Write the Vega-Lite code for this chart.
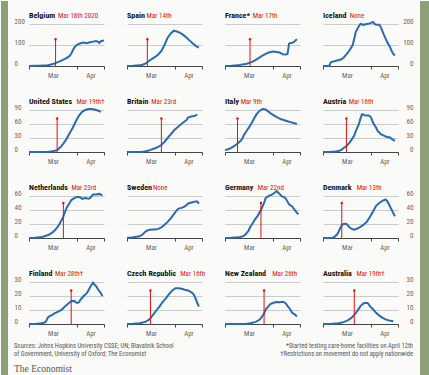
{
"$schema": "https://vega.github.io/schema/vega-lite/v6.json",
"background": "#fafaf8",
"padding": 0,
"spacing": 6,
"datasets": {
"k": [
{"c":"Belgium","n":"Belgium","l":"Mar 18th 2020","d":"2020-03-18"},
{"c":"Spain","n":"Spain","l":"Mar 14th","d":"2020-03-14"},
{"c":"France","n":"France*","l":"Mar 17th","d":"2020-03-17"},
{"c":"Iceland","n":"Iceland","l":"None"},
{"c":"United States","n":"United States","l":"Mar 19th†","d":"2020-03-19"},
{"c":"Britain","n":"Britain","l":"Mar 23rd","d":"2020-03-23"},
{"c":"Italy","n":"Italy","l":"Mar 9th","d":"2020-03-09"},
{"c":"Austria","n":"Austria","l":"Mar 16th","d":"2020-03-16"},
{"c":"Netherlands","n":"Netherlands","l":"Mar 23rd","d":"2020-03-23"},
{"c":"Sweden","n":"Sweden","l":"None"},
{"c":"Germany","n":"Germany","l":"Mar 22nd","d":"2020-03-24"},
{"c":"Denmark","n":"Denmark","l":"Mar 13th","d":"2020-03-13"},
{"c":"Finland","n":"Finland","l":"Mar 28th†","d":"2020-03-28"},
{"c":"Czech Republic","n":"Czech Republic","l":"Mar 16th","d":"2020-03-16"},
{"c":"New Zealand","n":"New Zealand","l":"Mar 26th","d":"2020-03-26"},
{"c":"Australia","n":"Australia","l":"Mar 19th†","d":"2020-03-21"}
],
"s": [
{"c":"Belgium","d":"2020-03-01","v":0},{"c":"Belgium","d":"2020-03-05","v":1},{"c":"Belgium","d":"2020-03-09","v":2},{"c":"Belgium","d":"2020-03-13","v":4},{"c":"Belgium","d":"2020-03-15","v":7},{"c":"Belgium","d":"2020-03-17","v":11},{"c":"Belgium","d":"2020-03-19","v":17},{"c":"Belgium","d":"2020-03-21","v":23},{"c":"Belgium","d":"2020-03-23","v":30},{"c":"Belgium","d":"2020-03-25","v":38},{"c":"Belgium","d":"2020-03-27","v":48},{"c":"Belgium","d":"2020-03-28","v":58},{"c":"Belgium","d":"2020-03-29","v":74},{"c":"Belgium","d":"2020-03-30","v":88},{"c":"Belgium","d":"2020-03-31","v":96},{"c":"Belgium","d":"2020-04-01","v":102},{"c":"Belgium","d":"2020-04-03","v":108},{"c":"Belgium","d":"2020-04-05","v":112},{"c":"Belgium","d":"2020-04-07","v":108},{"c":"Belgium","d":"2020-04-09","v":113},{"c":"Belgium","d":"2020-04-11","v":116},{"c":"Belgium","d":"2020-04-13","v":119},{"c":"Belgium","d":"2020-04-14","v":116},{"c":"Belgium","d":"2020-04-15","v":110},{"c":"Belgium","d":"2020-04-16","v":118},{"c":"Belgium","d":"2020-04-18","v":122},
{"c":"Spain","d":"2020-03-01","v":0},{"c":"Spain","d":"2020-03-05","v":1},{"c":"Spain","d":"2020-03-09","v":3},{"c":"Spain","d":"2020-03-11","v":6},{"c":"Spain","d":"2020-03-13","v":12},{"c":"Spain","d":"2020-03-15","v":24},{"c":"Spain","d":"2020-03-17","v":34},{"c":"Spain","d":"2020-03-19","v":43},{"c":"Spain","d":"2020-03-21","v":55},{"c":"Spain","d":"2020-03-23","v":72},{"c":"Spain","d":"2020-03-25","v":100},{"c":"Spain","d":"2020-03-27","v":135},{"c":"Spain","d":"2020-03-29","v":155},{"c":"Spain","d":"2020-03-31","v":168},{"c":"Spain","d":"2020-04-02","v":164},{"c":"Spain","d":"2020-04-04","v":158},{"c":"Spain","d":"2020-04-06","v":148},{"c":"Spain","d":"2020-04-08","v":136},{"c":"Spain","d":"2020-04-10","v":122},{"c":"Spain","d":"2020-04-12","v":108},{"c":"Spain","d":"2020-04-14","v":96},{"c":"Spain","d":"2020-04-16","v":88},
{"c":"France","d":"2020-03-01","v":0},{"c":"France","d":"2020-03-05","v":1},{"c":"France","d":"2020-03-09","v":3},{"c":"France","d":"2020-03-13","v":8},{"c":"France","d":"2020-03-15","v":11},{"c":"France","d":"2020-03-17","v":16},{"c":"France","d":"2020-03-19","v":22},{"c":"France","d":"2020-03-21","v":30},{"c":"France","d":"2020-03-23","v":40},{"c":"France","d":"2020-03-25","v":50},{"c":"France","d":"2020-03-27","v":58},{"c":"France","d":"2020-03-29","v":64},{"c":"France","d":"2020-03-31","v":68},{"c":"France","d":"2020-04-01","v":69},{"c":"France","d":"2020-04-03","v":67},{"c":"France","d":"2020-04-05","v":64},{"c":"France","d":"2020-04-06","v":60},{"c":"France","d":"2020-04-07","v":56},{"c":"France","d":"2020-04-09","v":55},{"c":"France","d":"2020-04-10","v":57},{"c":"France","d":"2020-04-11","v":106},{"c":"France","d":"2020-04-12","v":110},{"c":"France","d":"2020-04-13","v":111},{"c":"France","d":"2020-04-14","v":114},{"c":"France","d":"2020-04-15","v":120},{"c":"France","d":"2020-04-16","v":128},
{"c":"Iceland","d":"2020-03-01","v":0},{"c":"Iceland","d":"2020-03-05","v":0},{"c":"Iceland","d":"2020-03-06","v":18},{"c":"Iceland","d":"2020-03-08","v":22},{"c":"Iceland","d":"2020-03-10","v":26},{"c":"Iceland","d":"2020-03-12","v":30},{"c":"Iceland","d":"2020-03-14","v":38},{"c":"Iceland","d":"2020-03-16","v":55},{"c":"Iceland","d":"2020-03-18","v":75},{"c":"Iceland","d":"2020-03-20","v":100},{"c":"Iceland","d":"2020-03-21","v":130},{"c":"Iceland","d":"2020-03-22","v":163},{"c":"Iceland","d":"2020-03-24","v":190},{"c":"Iceland","d":"2020-03-25","v":200},{"c":"Iceland","d":"2020-03-27","v":196},{"c":"Iceland","d":"2020-03-29","v":200},{"c":"Iceland","d":"2020-03-31","v":203},{"c":"Iceland","d":"2020-04-02","v":210},{"c":"Iceland","d":"2020-04-03","v":200},{"c":"Iceland","d":"2020-04-04","v":196},{"c":"Iceland","d":"2020-04-06","v":196},{"c":"Iceland","d":"2020-04-07","v":185},{"c":"Iceland","d":"2020-04-09","v":148},{"c":"Iceland","d":"2020-04-11","v":115},{"c":"Iceland","d":"2020-04-13","v":88},{"c":"Iceland","d":"2020-04-14","v":70},{"c":"Iceland","d":"2020-04-15","v":58},{"c":"Iceland","d":"2020-04-16","v":50},
{"c":"United States","d":"2020-03-01","v":0},{"c":"United States","d":"2020-03-09","v":0},{"c":"United States","d":"2020-03-13","v":0.5},{"c":"United States","d":"2020-03-15","v":1},{"c":"United States","d":"2020-03-17","v":2},{"c":"United States","d":"2020-03-19","v":4},{"c":"United States","d":"2020-03-21","v":10},{"c":"United States","d":"2020-03-23","v":18},{"c":"United States","d":"2020-03-25","v":28},{"c":"United States","d":"2020-03-27","v":40},{"c":"United States","d":"2020-03-29","v":52},{"c":"United States","d":"2020-03-31","v":66},{"c":"United States","d":"2020-04-02","v":78},{"c":"United States","d":"2020-04-04","v":86},{"c":"United States","d":"2020-04-06","v":90},{"c":"United States","d":"2020-04-08","v":92},{"c":"United States","d":"2020-04-10","v":92},{"c":"United States","d":"2020-04-12","v":91},{"c":"United States","d":"2020-04-14","v":89},{"c":"United States","d":"2020-04-16","v":86},
{"c":"Britain","d":"2020-03-01","v":0},{"c":"Britain","d":"2020-03-07","v":0},{"c":"Britain","d":"2020-03-11","v":0.5},{"c":"Britain","d":"2020-03-13","v":1.5},{"c":"Britain","d":"2020-03-15","v":3},{"c":"Britain","d":"2020-03-17","v":6},{"c":"Britain","d":"2020-03-19","v":8},{"c":"Britain","d":"2020-03-21","v":11},{"c":"Britain","d":"2020-03-23","v":15},{"c":"Britain","d":"2020-03-25","v":22},{"c":"Britain","d":"2020-03-27","v":30},{"c":"Britain","d":"2020-03-29","v":38},{"c":"Britain","d":"2020-03-31","v":46},{"c":"Britain","d":"2020-04-02","v":52},{"c":"Britain","d":"2020-04-04","v":58},{"c":"Britain","d":"2020-04-06","v":63},{"c":"Britain","d":"2020-04-07","v":66},{"c":"Britain","d":"2020-04-08","v":68},{"c":"Britain","d":"2020-04-09","v":74},{"c":"Britain","d":"2020-04-11","v":76},{"c":"Britain","d":"2020-04-13","v":77},{"c":"Britain","d":"2020-04-15","v":80},
{"c":"Italy","d":"2020-03-01","v":4},{"c":"Italy","d":"2020-03-03","v":6},{"c":"Italy","d":"2020-03-05","v":9},{"c":"Italy","d":"2020-03-07","v":13},{"c":"Italy","d":"2020-03-09","v":18},{"c":"Italy","d":"2020-03-11","v":24},{"c":"Italy","d":"2020-03-12","v":28},{"c":"Italy","d":"2020-03-13","v":36},{"c":"Italy","d":"2020-03-15","v":46},{"c":"Italy","d":"2020-03-17","v":56},{"c":"Italy","d":"2020-03-19","v":68},{"c":"Italy","d":"2020-03-21","v":80},{"c":"Italy","d":"2020-03-23","v":88},{"c":"Italy","d":"2020-03-25","v":92},{"c":"Italy","d":"2020-03-27","v":91},{"c":"Italy","d":"2020-03-29","v":86},{"c":"Italy","d":"2020-03-31","v":81},{"c":"Italy","d":"2020-04-02","v":77},{"c":"Italy","d":"2020-04-04","v":73},{"c":"Italy","d":"2020-04-06","v":70},{"c":"Italy","d":"2020-04-08","v":68},{"c":"Italy","d":"2020-04-10","v":66},{"c":"Italy","d":"2020-04-12","v":64},{"c":"Italy","d":"2020-04-14","v":62},{"c":"Italy","d":"2020-04-16","v":60},
{"c":"Austria","d":"2020-03-01","v":0},{"c":"Austria","d":"2020-03-05","v":0},{"c":"Austria","d":"2020-03-09","v":1},{"c":"Austria","d":"2020-03-11","v":2},{"c":"Austria","d":"2020-03-13","v":5},{"c":"Austria","d":"2020-03-14","v":8},{"c":"Austria","d":"2020-03-16","v":13},{"c":"Austria","d":"2020-03-18","v":20},{"c":"Austria","d":"2020-03-19","v":25},{"c":"Austria","d":"2020-03-21","v":35},{"c":"Austria","d":"2020-03-22","v":45},{"c":"Austria","d":"2020-03-24","v":60},{"c":"Austria","d":"2020-03-25","v":72},{"c":"Austria","d":"2020-03-26","v":81},{"c":"Austria","d":"2020-03-27","v":80},{"c":"Austria","d":"2020-03-28","v":78},{"c":"Austria","d":"2020-03-30","v":78},{"c":"Austria","d":"2020-03-31","v":77},{"c":"Austria","d":"2020-04-01","v":72},{"c":"Austria","d":"2020-04-02","v":63},{"c":"Austria","d":"2020-04-04","v":52},{"c":"Austria","d":"2020-04-05","v":45},{"c":"Austria","d":"2020-04-07","v":38},{"c":"Austria","d":"2020-04-09","v":35},{"c":"Austria","d":"2020-04-11","v":32},{"c":"Austria","d":"2020-04-13","v":31},{"c":"Austria","d":"2020-04-14","v":28},{"c":"Austria","d":"2020-04-16","v":24},
{"c":"Netherlands","d":"2020-03-01","v":0},{"c":"Netherlands","d":"2020-03-05","v":0.5},{"c":"Netherlands","d":"2020-03-09","v":1.5},{"c":"Netherlands","d":"2020-03-11","v":2.5},{"c":"Netherlands","d":"2020-03-14","v":5},{"c":"Netherlands","d":"2020-03-16","v":8},{"c":"Netherlands","d":"2020-03-18","v":12},{"c":"Netherlands","d":"2020-03-20","v":18},{"c":"Netherlands","d":"2020-03-22","v":26},{"c":"Netherlands","d":"2020-03-23","v":31},{"c":"Netherlands","d":"2020-03-25","v":43},{"c":"Netherlands","d":"2020-03-27","v":50},{"c":"Netherlands","d":"2020-03-28","v":54},{"c":"Netherlands","d":"2020-03-30","v":57},{"c":"Netherlands","d":"2020-04-01","v":59},{"c":"Netherlands","d":"2020-04-03","v":58},{"c":"Netherlands","d":"2020-04-04","v":56},{"c":"Netherlands","d":"2020-04-06","v":57},{"c":"Netherlands","d":"2020-04-08","v":56},{"c":"Netherlands","d":"2020-04-09","v":57},{"c":"Netherlands","d":"2020-04-11","v":62},{"c":"Netherlands","d":"2020-04-13","v":62},{"c":"Netherlands","d":"2020-04-15","v":63},{"c":"Netherlands","d":"2020-04-16","v":62},{"c":"Netherlands","d":"2020-04-17","v":61},
{"c":"Sweden","d":"2020-03-01","v":0},{"c":"Sweden","d":"2020-03-05","v":1},{"c":"Sweden","d":"2020-03-09","v":2.5},{"c":"Sweden","d":"2020-03-11","v":5},{"c":"Sweden","d":"2020-03-13","v":9.5},{"c":"Sweden","d":"2020-03-15","v":11.5},{"c":"Sweden","d":"2020-03-17","v":12},{"c":"Sweden","d":"2020-03-19","v":12},{"c":"Sweden","d":"2020-03-21","v":13},{"c":"Sweden","d":"2020-03-23","v":15},{"c":"Sweden","d":"2020-03-25","v":19},{"c":"Sweden","d":"2020-03-27","v":23},{"c":"Sweden","d":"2020-03-29","v":28},{"c":"Sweden","d":"2020-03-31","v":34},{"c":"Sweden","d":"2020-04-02","v":40},{"c":"Sweden","d":"2020-04-03","v":42},{"c":"Sweden","d":"2020-04-05","v":43},{"c":"Sweden","d":"2020-04-07","v":45},{"c":"Sweden","d":"2020-04-09","v":49},{"c":"Sweden","d":"2020-04-10","v":50},{"c":"Sweden","d":"2020-04-12","v":51},{"c":"Sweden","d":"2020-04-14","v":52},{"c":"Sweden","d":"2020-04-15","v":52},{"c":"Sweden","d":"2020-04-16","v":49},
{"c":"Germany","d":"2020-03-01","v":0},{"c":"Germany","d":"2020-03-05","v":0.3},{"c":"Germany","d":"2020-03-09","v":1},{"c":"Germany","d":"2020-03-11","v":1.5},{"c":"Germany","d":"2020-03-13","v":3},{"c":"Germany","d":"2020-03-14","v":5},{"c":"Germany","d":"2020-03-16","v":10},{"c":"Germany","d":"2020-03-17","v":15},{"c":"Germany","d":"2020-03-19","v":22},{"c":"Germany","d":"2020-03-20","v":26},{"c":"Germany","d":"2020-03-22","v":32},{"c":"Germany","d":"2020-03-24","v":40},{"c":"Germany","d":"2020-03-26","v":50},{"c":"Germany","d":"2020-03-27","v":57},{"c":"Germany","d":"2020-03-29","v":60},{"c":"Germany","d":"2020-03-31","v":62},{"c":"Germany","d":"2020-04-02","v":65},{"c":"Germany","d":"2020-04-03","v":67},{"c":"Germany","d":"2020-04-05","v":63},{"c":"Germany","d":"2020-04-06","v":60},{"c":"Germany","d":"2020-04-08","v":58},{"c":"Germany","d":"2020-04-09","v":56},{"c":"Germany","d":"2020-04-11","v":48},{"c":"Germany","d":"2020-04-13","v":45},{"c":"Germany","d":"2020-04-14","v":42},{"c":"Germany","d":"2020-04-16","v":36},{"c":"Germany","d":"2020-04-17","v":34},
{"c":"Denmark","d":"2020-03-01","v":0},{"c":"Denmark","d":"2020-03-05","v":0},{"c":"Denmark","d":"2020-03-07","v":0.5},{"c":"Denmark","d":"2020-03-08","v":1},{"c":"Denmark","d":"2020-03-10","v":5},{"c":"Denmark","d":"2020-03-11","v":9},{"c":"Denmark","d":"2020-03-12","v":14},{"c":"Denmark","d":"2020-03-13","v":18},{"c":"Denmark","d":"2020-03-14","v":20},{"c":"Denmark","d":"2020-03-15","v":20.5},{"c":"Denmark","d":"2020-03-16","v":20},{"c":"Denmark","d":"2020-03-17","v":18},{"c":"Denmark","d":"2020-03-18","v":15},{"c":"Denmark","d":"2020-03-20","v":12.5},{"c":"Denmark","d":"2020-03-21","v":12},{"c":"Denmark","d":"2020-03-23","v":13.5},{"c":"Denmark","d":"2020-03-25","v":16},{"c":"Denmark","d":"2020-03-27","v":19},{"c":"Denmark","d":"2020-03-29","v":23},{"c":"Denmark","d":"2020-03-31","v":30},{"c":"Denmark","d":"2020-04-02","v":38},{"c":"Denmark","d":"2020-04-04","v":46},{"c":"Denmark","d":"2020-04-06","v":50},{"c":"Denmark","d":"2020-04-08","v":53},{"c":"Denmark","d":"2020-04-10","v":55},{"c":"Denmark","d":"2020-04-11","v":53},{"c":"Denmark","d":"2020-04-12","v":49},{"c":"Denmark","d":"2020-04-14","v":40},{"c":"Denmark","d":"2020-04-16","v":31},
{"c":"Finland","d":"2020-03-01","v":0},{"c":"Finland","d":"2020-03-05","v":0},{"c":"Finland","d":"2020-03-09","v":0.5},{"c":"Finland","d":"2020-03-11","v":1},{"c":"Finland","d":"2020-03-12","v":2},{"c":"Finland","d":"2020-03-13","v":4.5},{"c":"Finland","d":"2020-03-14","v":5.5},{"c":"Finland","d":"2020-03-16","v":6.5},{"c":"Finland","d":"2020-03-17","v":7.5},{"c":"Finland","d":"2020-03-19","v":8.5},{"c":"Finland","d":"2020-03-20","v":9},{"c":"Finland","d":"2020-03-22","v":10.3},{"c":"Finland","d":"2020-03-24","v":12.5},{"c":"Finland","d":"2020-03-26","v":14.5},{"c":"Finland","d":"2020-03-28","v":16.3},{"c":"Finland","d":"2020-03-30","v":16.5},{"c":"Finland","d":"2020-03-31","v":15.5},{"c":"Finland","d":"2020-04-01","v":15},{"c":"Finland","d":"2020-04-02","v":15.5},{"c":"Finland","d":"2020-04-03","v":17.5},{"c":"Finland","d":"2020-04-05","v":20},{"c":"Finland","d":"2020-04-07","v":22},{"c":"Finland","d":"2020-04-08","v":24},{"c":"Finland","d":"2020-04-09","v":26},{"c":"Finland","d":"2020-04-10","v":28},{"c":"Finland","d":"2020-04-11","v":29.5},{"c":"Finland","d":"2020-04-12","v":28},{"c":"Finland","d":"2020-04-13","v":27},{"c":"Finland","d":"2020-04-14","v":25},{"c":"Finland","d":"2020-04-16","v":22},{"c":"Finland","d":"2020-04-17","v":20},
{"c":"Czech Republic","d":"2020-03-01","v":0},{"c":"Czech Republic","d":"2020-03-05","v":0.2},{"c":"Czech Republic","d":"2020-03-09","v":0.5},{"c":"Czech Republic","d":"2020-03-11","v":1},{"c":"Czech Republic","d":"2020-03-13","v":1.7},{"c":"Czech Republic","d":"2020-03-15","v":3},{"c":"Czech Republic","d":"2020-03-16","v":4.2},{"c":"Czech Republic","d":"2020-03-18","v":7},{"c":"Czech Republic","d":"2020-03-20","v":10},{"c":"Czech Republic","d":"2020-03-22","v":12.8},{"c":"Czech Republic","d":"2020-03-24","v":16},{"c":"Czech Republic","d":"2020-03-26","v":18.5},{"c":"Czech Republic","d":"2020-03-28","v":21.5},{"c":"Czech Republic","d":"2020-03-30","v":24},{"c":"Czech Republic","d":"2020-04-01","v":25.6},{"c":"Czech Republic","d":"2020-04-03","v":25.5},{"c":"Czech Republic","d":"2020-04-05","v":25.2},{"c":"Czech Republic","d":"2020-04-07","v":24.5},{"c":"Czech Republic","d":"2020-04-09","v":24},{"c":"Czech Republic","d":"2020-04-10","v":23.5},{"c":"Czech Republic","d":"2020-04-12","v":22},{"c":"Czech Republic","d":"2020-04-13","v":20.5},{"c":"Czech Republic","d":"2020-04-14","v":18},{"c":"Czech Republic","d":"2020-04-15","v":15},{"c":"Czech Republic","d":"2020-04-16","v":12.5},
{"c":"New Zealand","d":"2020-03-01","v":0},{"c":"New Zealand","d":"2020-03-10","v":0},{"c":"New Zealand","d":"2020-03-15","v":0.2},{"c":"New Zealand","d":"2020-03-17","v":0.5},{"c":"New Zealand","d":"2020-03-19","v":1},{"c":"New Zealand","d":"2020-03-21","v":1.7},{"c":"New Zealand","d":"2020-03-23","v":3},{"c":"New Zealand","d":"2020-03-24","v":4.2},{"c":"New Zealand","d":"2020-03-26","v":7.5},{"c":"New Zealand","d":"2020-03-27","v":10.3},{"c":"New Zealand","d":"2020-03-29","v":13},{"c":"New Zealand","d":"2020-03-30","v":14.2},{"c":"New Zealand","d":"2020-04-01","v":15.2},{"c":"New Zealand","d":"2020-04-03","v":15.7},{"c":"New Zealand","d":"2020-04-05","v":15.5},{"c":"New Zealand","d":"2020-04-07","v":15.8},{"c":"New Zealand","d":"2020-04-08","v":15.5},{"c":"New Zealand","d":"2020-04-09","v":14.5},{"c":"New Zealand","d":"2020-04-10","v":13},{"c":"New Zealand","d":"2020-04-12","v":10},{"c":"New Zealand","d":"2020-04-13","v":8},{"c":"New Zealand","d":"2020-04-15","v":6.5},{"c":"New Zealand","d":"2020-04-16","v":5.4},
{"c":"Australia","d":"2020-03-01","v":0},{"c":"Australia","d":"2020-03-07","v":0.2},{"c":"Australia","d":"2020-03-11","v":0.5},{"c":"Australia","d":"2020-03-13","v":1},{"c":"Australia","d":"2020-03-15","v":1.7},{"c":"Australia","d":"2020-03-17","v":2.8},{"c":"Australia","d":"2020-03-19","v":4.2},{"c":"Australia","d":"2020-03-21","v":6.5},{"c":"Australia","d":"2020-03-22","v":7.9},{"c":"Australia","d":"2020-03-24","v":11},{"c":"Australia","d":"2020-03-25","v":12.8},{"c":"Australia","d":"2020-03-27","v":14.8},{"c":"Australia","d":"2020-03-29","v":15.2},{"c":"Australia","d":"2020-03-30","v":14.5},{"c":"Australia","d":"2020-03-31","v":12.8},{"c":"Australia","d":"2020-04-02","v":10.5},{"c":"Australia","d":"2020-04-04","v":8},{"c":"Australia","d":"2020-04-06","v":6},{"c":"Australia","d":"2020-04-08","v":4.5},{"c":"Australia","d":"2020-04-10","v":3.3},{"c":"Australia","d":"2020-04-12","v":2.6},{"c":"Australia","d":"2020-04-14","v":2.2},{"c":"Australia","d":"2020-04-15","v":2}
]
},
"hconcat": [
{"width":7,"height":375,"view":{"fill":"#8b9f78","stroke":null},"data":{"values":[{}]},"mark":{"type":"rule","opacity":0},"encoding":{}},
{"spacing": 20,
"title": {"text": "The Economist", "orient": "bottom", "anchor": "start", "font": "Liberation Serif", "fontSize": 9.5, "fontWeight": "normal", "color": "#555", "offset": 7},
"vconcat": [
{"spacing": 10, "vconcat": [
{"width":1,"height":1,"data":{"values":[{}]},"mark":{"type":"rule","opacity":0},"encoding":{}},
{"bounds":"flush","spacing":23,"hconcat":[
{"width":75,"height":42,"layer":[
{"data":{"name":"s"},"transform":[{"filter":"datum.c=='Belgium'"}],"mark":{"type":"line","color":"#2a6bb1","strokeWidth":2},"encoding":{"x":{"field":"d","type":"temporal","title":null,"scale":{"type":"utc","domain":[{"year":2020,"month":3,"date":1,"utc":true},{"year":2020,"month":4,"date":18,"utc":true}]},"axis":{"values":[{"year":2020,"month":3,"date":1,"utc":true},{"year":2020,"month":4,"date":1,"utc":true},{"year":2020,"month":4,"date":18,"utc":true}],"tickCount":10,"labelExpr":"utcdate(datum.value)==1?utcFormat(datum.value,'%b'):''","labelOffset":{"condition":[{"test":"utcmonth(datum.value)==2","value":24},{"test":"utcdate(datum.value)==1","value":13}],"value":0}}},"y":{"field":"v","type":"quantitative","title":null,"scale":{"domain":[0,200]},"axis":{"values":[0,100,200],"tickCount":10,"orient":"left","labelAlign":"left","labelPadding":15}}}},
{"data":{"name":"k"},"transform":[{"filter":"datum.c=='Belgium'"}],"mark":{"type":"rule","color":"#e3120b","strokeWidth":1},"encoding":{"x":{"field":"d","type":"temporal","title":null},"y":{"datum":0},"y2":{"datum":127}}},
{"data":{"name":"k"},"transform":[{"filter":"datum.c=='Belgium'"}],"mark":{"type":"point","filled":true,"color":"#e3120b","size":6,"opacity":1},"encoding":{"x":{"field":"d","type":"temporal","title":null},"y":{"datum":127}}},
{"data":{"name":"k"},"transform":[{"filter":"datum.c=='Belgium'"}],"mark":{"type":"text","dy":-6,"fontSize":8,"fontWeight":"bold","color":"#111"},"encoding":{"x":{"datum":{"year":2020,"month":3,"date":1,"utc":true},"type":"temporal"},"y":{"datum":200},"text":{"field":"n"}}},
{"data":{"name":"k"},"transform":[{"filter":"datum.c=='Belgium'"}],"mark":{"type":"text","dy":-6,"dx":29,"fontSize":7,"color":"#e3120b"},"encoding":{"x":{"datum":{"year":2020,"month":3,"date":1,"utc":true},"type":"temporal"},"y":{"datum":200},"text":{"field":"l"}}}
]},
{"width":75,"height":42,"layer":[
{"data":{"name":"s"},"transform":[{"filter":"datum.c=='Spain'"}],"mark":{"type":"line","color":"#2a6bb1","strokeWidth":2},"encoding":{"x":{"field":"d","type":"temporal","title":null,"scale":{"type":"utc","domain":[{"year":2020,"month":3,"date":1,"utc":true},{"year":2020,"month":4,"date":18,"utc":true}]},"axis":{"values":[{"year":2020,"month":3,"date":1,"utc":true},{"year":2020,"month":4,"date":1,"utc":true},{"year":2020,"month":4,"date":18,"utc":true}],"tickCount":10,"labelExpr":"utcdate(datum.value)==1?utcFormat(datum.value,'%b'):''","labelOffset":{"condition":[{"test":"utcmonth(datum.value)==2","value":24},{"test":"utcdate(datum.value)==1","value":13}],"value":0}}},"y":{"field":"v","type":"quantitative","title":null,"scale":{"domain":[0,200]},"axis":{"values":[0,100,200],"tickCount":10,"labels":false}}}},
{"data":{"name":"k"},"transform":[{"filter":"datum.c=='Spain'"}],"mark":{"type":"rule","color":"#e3120b","strokeWidth":1},"encoding":{"x":{"field":"d","type":"temporal","title":null},"y":{"datum":0},"y2":{"datum":127}}},
{"data":{"name":"k"},"transform":[{"filter":"datum.c=='Spain'"}],"mark":{"type":"point","filled":true,"color":"#e3120b","size":6,"opacity":1},"encoding":{"x":{"field":"d","type":"temporal","title":null},"y":{"datum":127}}},
{"data":{"name":"k"},"transform":[{"filter":"datum.c=='Spain'"}],"mark":{"type":"text","dy":-6,"fontSize":8,"fontWeight":"bold","color":"#111"},"encoding":{"x":{"datum":{"year":2020,"month":3,"date":1,"utc":true},"type":"temporal"},"y":{"datum":200},"text":{"field":"n"}}},
{"data":{"name":"k"},"transform":[{"filter":"datum.c=='Spain'"}],"mark":{"type":"text","dy":-6,"dx":19.6,"fontSize":7,"color":"#e3120b"},"encoding":{"x":{"datum":{"year":2020,"month":3,"date":1,"utc":true},"type":"temporal"},"y":{"datum":200},"text":{"field":"l"}}}
]},
{"width":75,"height":42,"layer":[
{"data":{"name":"s"},"transform":[{"filter":"datum.c=='France'"}],"mark":{"type":"line","color":"#2a6bb1","strokeWidth":2},"encoding":{"x":{"field":"d","type":"temporal","title":null,"scale":{"type":"utc","domain":[{"year":2020,"month":3,"date":1,"utc":true},{"year":2020,"month":4,"date":18,"utc":true}]},"axis":{"values":[{"year":2020,"month":3,"date":1,"utc":true},{"year":2020,"month":4,"date":1,"utc":true},{"year":2020,"month":4,"date":18,"utc":true}],"tickCount":10,"labelExpr":"utcdate(datum.value)==1?utcFormat(datum.value,'%b'):''","labelOffset":{"condition":[{"test":"utcmonth(datum.value)==2","value":24},{"test":"utcdate(datum.value)==1","value":13}],"value":0}}},"y":{"field":"v","type":"quantitative","title":null,"scale":{"domain":[0,200]},"axis":{"values":[0,100,200],"tickCount":10,"labels":false}}}},
{"data":{"name":"k"},"transform":[{"filter":"datum.c=='France'"}],"mark":{"type":"rule","color":"#e3120b","strokeWidth":1},"encoding":{"x":{"field":"d","type":"temporal","title":null},"y":{"datum":0},"y2":{"datum":127}}},
{"data":{"name":"k"},"transform":[{"filter":"datum.c=='France'"}],"mark":{"type":"point","filled":true,"color":"#e3120b","size":6,"opacity":1},"encoding":{"x":{"field":"d","type":"temporal","title":null},"y":{"datum":127}}},
{"data":{"name":"k"},"transform":[{"filter":"datum.c=='France'"}],"mark":{"type":"text","dy":-6,"fontSize":8,"fontWeight":"bold","color":"#111"},"encoding":{"x":{"datum":{"year":2020,"month":3,"date":1,"utc":true},"type":"temporal"},"y":{"datum":200},"text":{"field":"n"}}},
{"data":{"name":"k"},"transform":[{"filter":"datum.c=='France'"}],"mark":{"type":"text","dy":-6,"dx":27.7,"fontSize":7,"color":"#e3120b"},"encoding":{"x":{"datum":{"year":2020,"month":3,"date":1,"utc":true},"type":"temporal"},"y":{"datum":200},"text":{"field":"l"}}}
]},
{"width":75,"height":42,"layer":[
{"data":{"name":"s"},"transform":[{"filter":"datum.c=='Iceland'"}],"mark":{"type":"line","color":"#2a6bb1","strokeWidth":2},"encoding":{"x":{"field":"d","type":"temporal","title":null,"scale":{"type":"utc","domain":[{"year":2020,"month":3,"date":1,"utc":true},{"year":2020,"month":4,"date":18,"utc":true}]},"axis":{"values":[{"year":2020,"month":3,"date":1,"utc":true},{"year":2020,"month":4,"date":1,"utc":true},{"year":2020,"month":4,"date":18,"utc":true}],"tickCount":10,"labelExpr":"utcdate(datum.value)==1?utcFormat(datum.value,'%b'):''","labelOffset":{"condition":[{"test":"utcmonth(datum.value)==2","value":24},{"test":"utcdate(datum.value)==1","value":13}],"value":0}}},"y":{"field":"v","type":"quantitative","title":null,"scale":{"domain":[0,200]},"axis":{"values":[0,100,200],"tickCount":10,"orient":"right","labelAlign":"right","labelPadding":15}}}},
{"data":{"name":"k"},"transform":[{"filter":"datum.c=='Iceland'"}],"mark":{"type":"text","dy":-6,"fontSize":8,"fontWeight":"bold","color":"#111"},"encoding":{"x":{"datum":{"year":2020,"month":3,"date":1,"utc":true},"type":"temporal"},"y":{"datum":200},"text":{"field":"n"}}},
{"data":{"name":"k"},"transform":[{"filter":"datum.c=='Iceland'"}],"mark":{"type":"text","dy":-6,"dx":26.7,"fontSize":7,"color":"#e3120b"},"encoding":{"x":{"datum":{"year":2020,"month":3,"date":1,"utc":true},"type":"temporal"},"y":{"datum":200},"text":{"field":"l"}}}
]}
]}
]},
{"bounds":"flush","spacing":23,"hconcat":[
{"width":75,"height":42,"layer":[
{"data":{"name":"s"},"transform":[{"filter":"datum.c=='United States'"}],"mark":{"type":"line","color":"#2a6bb1","strokeWidth":2},"encoding":{"x":{"field":"d","type":"temporal","title":null,"scale":{"type":"utc","domain":[{"year":2020,"month":3,"date":1,"utc":true},{"year":2020,"month":4,"date":18,"utc":true}]},"axis":{"values":[{"year":2020,"month":3,"date":1,"utc":true},{"year":2020,"month":4,"date":1,"utc":true},{"year":2020,"month":4,"date":18,"utc":true}],"tickCount":10,"labelExpr":"utcdate(datum.value)==1?utcFormat(datum.value,'%b'):''","labelOffset":{"condition":[{"test":"utcmonth(datum.value)==2","value":24},{"test":"utcdate(datum.value)==1","value":13}],"value":0}}},"y":{"field":"v","type":"quantitative","title":null,"scale":{"domain":[0,90]},"axis":{"values":[0,30,60,90],"tickCount":10,"orient":"left","labelAlign":"left","labelPadding":15}}}},
{"data":{"name":"k"},"transform":[{"filter":"datum.c=='United States'"}],"mark":{"type":"rule","color":"#e3120b","strokeWidth":1},"encoding":{"x":{"field":"d","type":"temporal","title":null},"y":{"datum":0},"y2":{"datum":72}}},
{"data":{"name":"k"},"transform":[{"filter":"datum.c=='United States'"}],"mark":{"type":"point","filled":true,"color":"#e3120b","size":6,"opacity":1},"encoding":{"x":{"field":"d","type":"temporal","title":null},"y":{"datum":72}}},
{"data":{"name":"k"},"transform":[{"filter":"datum.c=='United States'"}],"mark":{"type":"text","dy":-6,"fontSize":8,"fontWeight":"bold","color":"#111"},"encoding":{"x":{"datum":{"year":2020,"month":3,"date":1,"utc":true},"type":"temporal"},"y":{"datum":90},"text":{"field":"n"}}},
{"data":{"name":"k"},"transform":[{"filter":"datum.c=='United States'"}],"mark":{"type":"text","dy":-6,"dx":47.4,"fontSize":7,"color":"#e3120b"},"encoding":{"x":{"datum":{"year":2020,"month":3,"date":1,"utc":true},"type":"temporal"},"y":{"datum":90},"text":{"field":"l"}}}
]},
{"width":75,"height":42,"layer":[
{"data":{"name":"s"},"transform":[{"filter":"datum.c=='Britain'"}],"mark":{"type":"line","color":"#2a6bb1","strokeWidth":2},"encoding":{"x":{"field":"d","type":"temporal","title":null,"scale":{"type":"utc","domain":[{"year":2020,"month":3,"date":1,"utc":true},{"year":2020,"month":4,"date":18,"utc":true}]},"axis":{"values":[{"year":2020,"month":3,"date":1,"utc":true},{"year":2020,"month":4,"date":1,"utc":true},{"year":2020,"month":4,"date":18,"utc":true}],"tickCount":10,"labelExpr":"utcdate(datum.value)==1?utcFormat(datum.value,'%b'):''","labelOffset":{"condition":[{"test":"utcmonth(datum.value)==2","value":24},{"test":"utcdate(datum.value)==1","value":13}],"value":0}}},"y":{"field":"v","type":"quantitative","title":null,"scale":{"domain":[0,90]},"axis":{"values":[0,30,60,90],"tickCount":10,"labels":false}}}},
{"data":{"name":"k"},"transform":[{"filter":"datum.c=='Britain'"}],"mark":{"type":"rule","color":"#e3120b","strokeWidth":1},"encoding":{"x":{"field":"d","type":"temporal","title":null},"y":{"datum":0},"y2":{"datum":72}}},
{"data":{"name":"k"},"transform":[{"filter":"datum.c=='Britain'"}],"mark":{"type":"point","filled":true,"color":"#e3120b","size":6,"opacity":1},"encoding":{"x":{"field":"d","type":"temporal","title":null},"y":{"datum":72}}},
{"data":{"name":"k"},"transform":[{"filter":"datum.c=='Britain'"}],"mark":{"type":"text","dy":-6,"fontSize":8,"fontWeight":"bold","color":"#111"},"encoding":{"x":{"datum":{"year":2020,"month":3,"date":1,"utc":true},"type":"temporal"},"y":{"datum":90},"text":{"field":"n"}}},
{"data":{"name":"k"},"transform":[{"filter":"datum.c=='Britain'"}],"mark":{"type":"text","dy":-6,"dx":24.3,"fontSize":7,"color":"#e3120b"},"encoding":{"x":{"datum":{"year":2020,"month":3,"date":1,"utc":true},"type":"temporal"},"y":{"datum":90},"text":{"field":"l"}}}
]},
{"width":75,"height":42,"layer":[
{"data":{"name":"s"},"transform":[{"filter":"datum.c=='Italy'"}],"mark":{"type":"line","color":"#2a6bb1","strokeWidth":2},"encoding":{"x":{"field":"d","type":"temporal","title":null,"scale":{"type":"utc","domain":[{"year":2020,"month":3,"date":1,"utc":true},{"year":2020,"month":4,"date":18,"utc":true}]},"axis":{"values":[{"year":2020,"month":3,"date":1,"utc":true},{"year":2020,"month":4,"date":1,"utc":true},{"year":2020,"month":4,"date":18,"utc":true}],"tickCount":10,"labelExpr":"utcdate(datum.value)==1?utcFormat(datum.value,'%b'):''","labelOffset":{"condition":[{"test":"utcmonth(datum.value)==2","value":24},{"test":"utcdate(datum.value)==1","value":13}],"value":0}}},"y":{"field":"v","type":"quantitative","title":null,"scale":{"domain":[0,90]},"axis":{"values":[0,30,60,90],"tickCount":10,"labels":false}}}},
{"data":{"name":"k"},"transform":[{"filter":"datum.c=='Italy'"}],"mark":{"type":"rule","color":"#e3120b","strokeWidth":1},"encoding":{"x":{"field":"d","type":"temporal","title":null},"y":{"datum":0},"y2":{"datum":72}}},
{"data":{"name":"k"},"transform":[{"filter":"datum.c=='Italy'"}],"mark":{"type":"point","filled":true,"color":"#e3120b","size":6,"opacity":1},"encoding":{"x":{"field":"d","type":"temporal","title":null},"y":{"datum":72}}},
{"data":{"name":"k"},"transform":[{"filter":"datum.c=='Italy'"}],"mark":{"type":"text","dy":-6,"fontSize":8,"fontWeight":"bold","color":"#111"},"encoding":{"x":{"datum":{"year":2020,"month":3,"date":1,"utc":true},"type":"temporal"},"y":{"datum":90},"text":{"field":"n"}}},
{"data":{"name":"k"},"transform":[{"filter":"datum.c=='Italy'"}],"mark":{"type":"text","dy":-6,"dx":15.7,"fontSize":7,"color":"#e3120b"},"encoding":{"x":{"datum":{"year":2020,"month":3,"date":1,"utc":true},"type":"temporal"},"y":{"datum":90},"text":{"field":"l"}}}
]},
{"width":75,"height":42,"layer":[
{"data":{"name":"s"},"transform":[{"filter":"datum.c=='Austria'"}],"mark":{"type":"line","color":"#2a6bb1","strokeWidth":2},"encoding":{"x":{"field":"d","type":"temporal","title":null,"scale":{"type":"utc","domain":[{"year":2020,"month":3,"date":1,"utc":true},{"year":2020,"month":4,"date":18,"utc":true}]},"axis":{"values":[{"year":2020,"month":3,"date":1,"utc":true},{"year":2020,"month":4,"date":1,"utc":true},{"year":2020,"month":4,"date":18,"utc":true}],"tickCount":10,"labelExpr":"utcdate(datum.value)==1?utcFormat(datum.value,'%b'):''","labelOffset":{"condition":[{"test":"utcmonth(datum.value)==2","value":24},{"test":"utcdate(datum.value)==1","value":13}],"value":0}}},"y":{"field":"v","type":"quantitative","title":null,"scale":{"domain":[0,90]},"axis":{"values":[0,30,60,90],"tickCount":10,"orient":"right","labelAlign":"right","labelPadding":15}}}},
{"data":{"name":"k"},"transform":[{"filter":"datum.c=='Austria'"}],"mark":{"type":"rule","color":"#e3120b","strokeWidth":1},"encoding":{"x":{"field":"d","type":"temporal","title":null},"y":{"datum":0},"y2":{"datum":72}}},
{"data":{"name":"k"},"transform":[{"filter":"datum.c=='Austria'"}],"mark":{"type":"point","filled":true,"color":"#e3120b","size":6,"opacity":1},"encoding":{"x":{"field":"d","type":"temporal","title":null},"y":{"datum":72}}},
{"data":{"name":"k"},"transform":[{"filter":"datum.c=='Austria'"}],"mark":{"type":"text","dy":-6,"fontSize":8,"fontWeight":"bold","color":"#111"},"encoding":{"x":{"datum":{"year":2020,"month":3,"date":1,"utc":true},"type":"temporal"},"y":{"datum":90},"text":{"field":"n"}}},
{"data":{"name":"k"},"transform":[{"filter":"datum.c=='Austria'"}],"mark":{"type":"text","dy":-6,"dx":25.7,"fontSize":7,"color":"#e3120b"},"encoding":{"x":{"datum":{"year":2020,"month":3,"date":1,"utc":true},"type":"temporal"},"y":{"datum":90},"text":{"field":"l"}}}
]}
]},
{"bounds":"flush","spacing":23,"hconcat":[
{"width":75,"height":42,"layer":[
{"data":{"name":"s"},"transform":[{"filter":"datum.c=='Netherlands'"}],"mark":{"type":"line","color":"#2a6bb1","strokeWidth":2},"encoding":{"x":{"field":"d","type":"temporal","title":null,"scale":{"type":"utc","domain":[{"year":2020,"month":3,"date":1,"utc":true},{"year":2020,"month":4,"date":18,"utc":true}]},"axis":{"values":[{"year":2020,"month":3,"date":1,"utc":true},{"year":2020,"month":4,"date":1,"utc":true},{"year":2020,"month":4,"date":18,"utc":true}],"tickCount":10,"labelExpr":"utcdate(datum.value)==1?utcFormat(datum.value,'%b'):''","labelOffset":{"condition":[{"test":"utcmonth(datum.value)==2","value":24},{"test":"utcdate(datum.value)==1","value":13}],"value":0}}},"y":{"field":"v","type":"quantitative","title":null,"scale":{"domain":[0,60]},"axis":{"values":[0,20,40,60],"tickCount":10,"orient":"left","labelAlign":"left","labelPadding":15}}}},
{"data":{"name":"k"},"transform":[{"filter":"datum.c=='Netherlands'"}],"mark":{"type":"rule","color":"#e3120b","strokeWidth":1},"encoding":{"x":{"field":"d","type":"temporal","title":null},"y":{"datum":0},"y2":{"datum":50}}},
{"data":{"name":"k"},"transform":[{"filter":"datum.c=='Netherlands'"}],"mark":{"type":"point","filled":true,"color":"#e3120b","size":6,"opacity":1},"encoding":{"x":{"field":"d","type":"temporal","title":null},"y":{"datum":50}}},
{"data":{"name":"k"},"transform":[{"filter":"datum.c=='Netherlands'"}],"mark":{"type":"text","dy":-6,"fontSize":8,"fontWeight":"bold","color":"#111"},"encoding":{"x":{"datum":{"year":2020,"month":3,"date":1,"utc":true},"type":"temporal"},"y":{"datum":60},"text":{"field":"n"}}},
{"data":{"name":"k"},"transform":[{"filter":"datum.c=='Netherlands'"}],"mark":{"type":"text","dy":-6,"dx":42.4,"fontSize":7,"color":"#e3120b"},"encoding":{"x":{"datum":{"year":2020,"month":3,"date":1,"utc":true},"type":"temporal"},"y":{"datum":60},"text":{"field":"l"}}}
]},
{"width":75,"height":42,"layer":[
{"data":{"name":"s"},"transform":[{"filter":"datum.c=='Sweden'"}],"mark":{"type":"line","color":"#2a6bb1","strokeWidth":2},"encoding":{"x":{"field":"d","type":"temporal","title":null,"scale":{"type":"utc","domain":[{"year":2020,"month":3,"date":1,"utc":true},{"year":2020,"month":4,"date":18,"utc":true}]},"axis":{"values":[{"year":2020,"month":3,"date":1,"utc":true},{"year":2020,"month":4,"date":1,"utc":true},{"year":2020,"month":4,"date":18,"utc":true}],"tickCount":10,"labelExpr":"utcdate(datum.value)==1?utcFormat(datum.value,'%b'):''","labelOffset":{"condition":[{"test":"utcmonth(datum.value)==2","value":24},{"test":"utcdate(datum.value)==1","value":13}],"value":0}}},"y":{"field":"v","type":"quantitative","title":null,"scale":{"domain":[0,60]},"axis":{"values":[0,20,40,60],"tickCount":10,"labels":false}}}},
{"data":{"name":"k"},"transform":[{"filter":"datum.c=='Sweden'"}],"mark":{"type":"text","dy":-6,"fontSize":8,"fontWeight":"bold","color":"#111"},"encoding":{"x":{"datum":{"year":2020,"month":3,"date":1,"utc":true},"type":"temporal"},"y":{"datum":60},"text":{"field":"n"}}},
{"data":{"name":"k"},"transform":[{"filter":"datum.c=='Sweden'"}],"mark":{"type":"text","dy":-6,"dx":26,"fontSize":7,"color":"#e3120b"},"encoding":{"x":{"datum":{"year":2020,"month":3,"date":1,"utc":true},"type":"temporal"},"y":{"datum":60},"text":{"field":"l"}}}
]},
{"width":75,"height":42,"layer":[
{"data":{"name":"s"},"transform":[{"filter":"datum.c=='Germany'"}],"mark":{"type":"line","color":"#2a6bb1","strokeWidth":2},"encoding":{"x":{"field":"d","type":"temporal","title":null,"scale":{"type":"utc","domain":[{"year":2020,"month":3,"date":1,"utc":true},{"year":2020,"month":4,"date":18,"utc":true}]},"axis":{"values":[{"year":2020,"month":3,"date":1,"utc":true},{"year":2020,"month":4,"date":1,"utc":true},{"year":2020,"month":4,"date":18,"utc":true}],"tickCount":10,"labelExpr":"utcdate(datum.value)==1?utcFormat(datum.value,'%b'):''","labelOffset":{"condition":[{"test":"utcmonth(datum.value)==2","value":24},{"test":"utcdate(datum.value)==1","value":13}],"value":0}}},"y":{"field":"v","type":"quantitative","title":null,"scale":{"domain":[0,60]},"axis":{"values":[0,20,40,60],"tickCount":10,"labels":false}}}},
{"data":{"name":"k"},"transform":[{"filter":"datum.c=='Germany'"}],"mark":{"type":"rule","color":"#e3120b","strokeWidth":1},"encoding":{"x":{"field":"d","type":"temporal","title":null},"y":{"datum":0},"y2":{"datum":50}}},
{"data":{"name":"k"},"transform":[{"filter":"datum.c=='Germany'"}],"mark":{"type":"point","filled":true,"color":"#e3120b","size":6,"opacity":1},"encoding":{"x":{"field":"d","type":"temporal","title":null},"y":{"datum":50}}},
{"data":{"name":"k"},"transform":[{"filter":"datum.c=='Germany'"}],"mark":{"type":"text","dy":-6,"fontSize":8,"fontWeight":"bold","color":"#111"},"encoding":{"x":{"datum":{"year":2020,"month":3,"date":1,"utc":true},"type":"temporal"},"y":{"datum":60},"text":{"field":"n"}}},
{"data":{"name":"k"},"transform":[{"filter":"datum.c=='Germany'"}],"mark":{"type":"text","dy":-6,"dx":32.7,"fontSize":7,"color":"#e3120b"},"encoding":{"x":{"datum":{"year":2020,"month":3,"date":1,"utc":true},"type":"temporal"},"y":{"datum":60},"text":{"field":"l"}}}
]},
{"width":75,"height":42,"layer":[
{"data":{"name":"s"},"transform":[{"filter":"datum.c=='Denmark'"}],"mark":{"type":"line","color":"#2a6bb1","strokeWidth":2},"encoding":{"x":{"field":"d","type":"temporal","title":null,"scale":{"type":"utc","domain":[{"year":2020,"month":3,"date":1,"utc":true},{"year":2020,"month":4,"date":18,"utc":true}]},"axis":{"values":[{"year":2020,"month":3,"date":1,"utc":true},{"year":2020,"month":4,"date":1,"utc":true},{"year":2020,"month":4,"date":18,"utc":true}],"tickCount":10,"labelExpr":"utcdate(datum.value)==1?utcFormat(datum.value,'%b'):''","labelOffset":{"condition":[{"test":"utcmonth(datum.value)==2","value":24},{"test":"utcdate(datum.value)==1","value":13}],"value":0}}},"y":{"field":"v","type":"quantitative","title":null,"scale":{"domain":[0,60]},"axis":{"values":[0,20,40,60],"tickCount":10,"orient":"right","labelAlign":"right","labelPadding":15}}}},
{"data":{"name":"k"},"transform":[{"filter":"datum.c=='Denmark'"}],"mark":{"type":"rule","color":"#e3120b","strokeWidth":1},"encoding":{"x":{"field":"d","type":"temporal","title":null},"y":{"datum":0},"y2":{"datum":50}}},
{"data":{"name":"k"},"transform":[{"filter":"datum.c=='Denmark'"}],"mark":{"type":"point","filled":true,"color":"#e3120b","size":6,"opacity":1},"encoding":{"x":{"field":"d","type":"temporal","title":null},"y":{"datum":50}}},
{"data":{"name":"k"},"transform":[{"filter":"datum.c=='Denmark'"}],"mark":{"type":"text","dy":-6,"fontSize":8,"fontWeight":"bold","color":"#111"},"encoding":{"x":{"datum":{"year":2020,"month":3,"date":1,"utc":true},"type":"temporal"},"y":{"datum":60},"text":{"field":"n"}}},
{"data":{"name":"k"},"transform":[{"filter":"datum.c=='Denmark'"}],"mark":{"type":"text","dy":-6,"dx":33.7,"fontSize":7,"color":"#e3120b"},"encoding":{"x":{"datum":{"year":2020,"month":3,"date":1,"utc":true},"type":"temporal"},"y":{"datum":60},"text":{"field":"l"}}}
]}
]},
{"bounds":"flush","spacing":23,"hconcat":[
{"width":75,"height":42,"title":{"text":["Sources: Johns Hopkins University CSSE; UN; Blavatnik School","of Government, University of Oxford; The Economist"],"orient":"bottom","anchor":"start","fontSize":6.5,"fontWeight":"normal","color":"#555","lineHeight":7.5,"offset":7},"layer":[
{"data":{"name":"s"},"transform":[{"filter":"datum.c=='Finland'"}],"mark":{"type":"line","color":"#2a6bb1","strokeWidth":2},"encoding":{"x":{"field":"d","type":"temporal","title":null,"scale":{"type":"utc","domain":[{"year":2020,"month":3,"date":1,"utc":true},{"year":2020,"month":4,"date":18,"utc":true}]},"axis":{"values":[{"year":2020,"month":3,"date":1,"utc":true},{"year":2020,"month":4,"date":1,"utc":true},{"year":2020,"month":4,"date":18,"utc":true}],"tickCount":10,"labelExpr":"utcdate(datum.value)==1?utcFormat(datum.value,'%b'):''","labelOffset":{"condition":[{"test":"utcmonth(datum.value)==2","value":24},{"test":"utcdate(datum.value)==1","value":13}],"value":0}}},"y":{"field":"v","type":"quantitative","title":null,"scale":{"domain":[0,30]},"axis":{"values":[0,10,20,30],"tickCount":10,"orient":"left","labelAlign":"left","labelPadding":15}}}},
{"data":{"name":"k"},"transform":[{"filter":"datum.c=='Finland'"}],"mark":{"type":"rule","color":"#e3120b","strokeWidth":1},"encoding":{"x":{"field":"d","type":"temporal","title":null},"y":{"datum":0},"y2":{"datum":24}}},
{"data":{"name":"k"},"transform":[{"filter":"datum.c=='Finland'"}],"mark":{"type":"point","filled":true,"color":"#e3120b","size":6,"opacity":1},"encoding":{"x":{"field":"d","type":"temporal","title":null},"y":{"datum":24}}},
{"data":{"name":"k"},"transform":[{"filter":"datum.c=='Finland'"}],"mark":{"type":"text","dy":-6,"fontSize":8,"fontWeight":"bold","color":"#111"},"encoding":{"x":{"datum":{"year":2020,"month":3,"date":1,"utc":true},"type":"temporal"},"y":{"datum":30},"text":{"field":"n"}}},
{"data":{"name":"k"},"transform":[{"filter":"datum.c=='Finland'"}],"mark":{"type":"text","dy":-6,"dx":26,"fontSize":7,"color":"#e3120b"},"encoding":{"x":{"datum":{"year":2020,"month":3,"date":1,"utc":true},"type":"temporal"},"y":{"datum":30},"text":{"field":"l"}}}
]},
{"width":75,"height":42,"layer":[
{"data":{"name":"s"},"transform":[{"filter":"datum.c=='Czech Republic'"}],"mark":{"type":"line","color":"#2a6bb1","strokeWidth":2},"encoding":{"x":{"field":"d","type":"temporal","title":null,"scale":{"type":"utc","domain":[{"year":2020,"month":3,"date":1,"utc":true},{"year":2020,"month":4,"date":18,"utc":true}]},"axis":{"values":[{"year":2020,"month":3,"date":1,"utc":true},{"year":2020,"month":4,"date":1,"utc":true},{"year":2020,"month":4,"date":18,"utc":true}],"tickCount":10,"labelExpr":"utcdate(datum.value)==1?utcFormat(datum.value,'%b'):''","labelOffset":{"condition":[{"test":"utcmonth(datum.value)==2","value":24},{"test":"utcdate(datum.value)==1","value":13}],"value":0}}},"y":{"field":"v","type":"quantitative","title":null,"scale":{"domain":[0,30]},"axis":{"values":[0,10,20,30],"tickCount":10,"labels":false}}}},
{"data":{"name":"k"},"transform":[{"filter":"datum.c=='Czech Republic'"}],"mark":{"type":"rule","color":"#e3120b","strokeWidth":1},"encoding":{"x":{"field":"d","type":"temporal","title":null},"y":{"datum":0},"y2":{"datum":24}}},
{"data":{"name":"k"},"transform":[{"filter":"datum.c=='Czech Republic'"}],"mark":{"type":"point","filled":true,"color":"#e3120b","size":6,"opacity":1},"encoding":{"x":{"field":"d","type":"temporal","title":null},"y":{"datum":24}}},
{"data":{"name":"k"},"transform":[{"filter":"datum.c=='Czech Republic'"}],"mark":{"type":"text","dy":-6,"fontSize":8,"fontWeight":"bold","color":"#111"},"encoding":{"x":{"datum":{"year":2020,"month":3,"date":1,"utc":true},"type":"temporal"},"y":{"datum":30},"text":{"field":"n"}}},
{"data":{"name":"k"},"transform":[{"filter":"datum.c=='Czech Republic'"}],"mark":{"type":"text","dy":-6,"dx":53.3,"fontSize":7,"color":"#e3120b"},"encoding":{"x":{"datum":{"year":2020,"month":3,"date":1,"utc":true},"type":"temporal"},"y":{"datum":30},"text":{"field":"l"}}}
]},
{"width":75,"height":42,"layer":[
{"data":{"name":"s"},"transform":[{"filter":"datum.c=='New Zealand'"}],"mark":{"type":"line","color":"#2a6bb1","strokeWidth":2},"encoding":{"x":{"field":"d","type":"temporal","title":null,"scale":{"type":"utc","domain":[{"year":2020,"month":3,"date":1,"utc":true},{"year":2020,"month":4,"date":18,"utc":true}]},"axis":{"values":[{"year":2020,"month":3,"date":1,"utc":true},{"year":2020,"month":4,"date":1,"utc":true},{"year":2020,"month":4,"date":18,"utc":true}],"tickCount":10,"labelExpr":"utcdate(datum.value)==1?utcFormat(datum.value,'%b'):''","labelOffset":{"condition":[{"test":"utcmonth(datum.value)==2","value":24},{"test":"utcdate(datum.value)==1","value":13}],"value":0}}},"y":{"field":"v","type":"quantitative","title":null,"scale":{"domain":[0,30]},"axis":{"values":[0,10,20,30],"tickCount":10,"labels":false}}}},
{"data":{"name":"k"},"transform":[{"filter":"datum.c=='New Zealand'"}],"mark":{"type":"rule","color":"#e3120b","strokeWidth":1},"encoding":{"x":{"field":"d","type":"temporal","title":null},"y":{"datum":0},"y2":{"datum":24}}},
{"data":{"name":"k"},"transform":[{"filter":"datum.c=='New Zealand'"}],"mark":{"type":"point","filled":true,"color":"#e3120b","size":6,"opacity":1},"encoding":{"x":{"field":"d","type":"temporal","title":null},"y":{"datum":24}}},
{"data":{"name":"k"},"transform":[{"filter":"datum.c=='New Zealand'"}],"mark":{"type":"text","dy":-6,"fontSize":8,"fontWeight":"bold","color":"#111"},"encoding":{"x":{"datum":{"year":2020,"month":3,"date":1,"utc":true},"type":"temporal"},"y":{"datum":30},"text":{"field":"n"}}},
{"data":{"name":"k"},"transform":[{"filter":"datum.c=='New Zealand'"}],"mark":{"type":"text","dy":-6,"dx":47.3,"fontSize":7,"color":"#e3120b"},"encoding":{"x":{"datum":{"year":2020,"month":3,"date":1,"utc":true},"type":"temporal"},"y":{"datum":30},"text":{"field":"l"}}}
]},
{"width":75,"height":42,"title":{"text":["*Started testing care-home facilities on April 12th","†Restrictions on movement do not apply nationwide"],"orient":"bottom","anchor":"end","fontSize":6.5,"fontWeight":"normal","color":"#555","lineHeight":7.5,"offset":7},"layer":[
{"data":{"name":"s"},"transform":[{"filter":"datum.c=='Australia'"}],"mark":{"type":"line","color":"#2a6bb1","strokeWidth":2},"encoding":{"x":{"field":"d","type":"temporal","title":null,"scale":{"type":"utc","domain":[{"year":2020,"month":3,"date":1,"utc":true},{"year":2020,"month":4,"date":18,"utc":true}]},"axis":{"values":[{"year":2020,"month":3,"date":1,"utc":true},{"year":2020,"month":4,"date":1,"utc":true},{"year":2020,"month":4,"date":18,"utc":true}],"tickCount":10,"labelExpr":"utcdate(datum.value)==1?utcFormat(datum.value,'%b'):''","labelOffset":{"condition":[{"test":"utcmonth(datum.value)==2","value":24},{"test":"utcdate(datum.value)==1","value":13}],"value":0}}},"y":{"field":"v","type":"quantitative","title":null,"scale":{"domain":[0,30]},"axis":{"values":[0,10,20,30],"tickCount":10,"orient":"right","labelAlign":"right","labelPadding":15}}}},
{"data":{"name":"k"},"transform":[{"filter":"datum.c=='Australia'"}],"mark":{"type":"rule","color":"#e3120b","strokeWidth":1},"encoding":{"x":{"field":"d","type":"temporal","title":null},"y":{"datum":0},"y2":{"datum":24}}},
{"data":{"name":"k"},"transform":[{"filter":"datum.c=='Australia'"}],"mark":{"type":"point","filled":true,"color":"#e3120b","size":6,"opacity":1},"encoding":{"x":{"field":"d","type":"temporal","title":null},"y":{"datum":24}}},
{"data":{"name":"k"},"transform":[{"filter":"datum.c=='Australia'"}],"mark":{"type":"text","dy":-6,"fontSize":8,"fontWeight":"bold","color":"#111"},"encoding":{"x":{"datum":{"year":2020,"month":3,"date":1,"utc":true},"type":"temporal"},"y":{"datum":30},"text":{"field":"n"}}},
{"data":{"name":"k"},"transform":[{"filter":"datum.c=='Australia'"}],"mark":{"type":"text","dy":-6,"dx":33.4,"fontSize":7,"color":"#e3120b"},"encoding":{"x":{"datum":{"year":2020,"month":3,"date":1,"utc":true},"type":"temporal"},"y":{"datum":30},"text":{"field":"l"}}}
]}
]}
]},
{"width":10,"height":375,"view":{"fill":"#8b9f78","stroke":null},"data":{"values":[{}]},"mark":{"type":"rule","opacity":0},"encoding":{}}
],
"config": {
"font": "Liberation Sans Narrow, Roboto Condensed, Liberation Sans, sans-serif",
"view": {"stroke": null},
"text": {"align": "left", "baseline": "alphabetic", "font": "Liberation Sans Narrow, Roboto Condensed, Liberation Sans, sans-serif"},
"title": {"font": "Liberation Sans Narrow, Roboto Condensed, Liberation Sans, sans-serif"},
"axis": {"labelFont": "Liberation Sans Narrow, Roboto Condensed, Liberation Sans, sans-serif", "labelFontSize": 7, "labelColor": "#666", "labelOverlap": false, "tickCount": 10},
"axisX": {"domain": true, "domainColor": "#444", "domainWidth": 1, "ticks": true, "tickColor": "#444", "tickSize": 3, "grid": false, "labelPadding": 2, "labelAlign": "center", "labelOverlap": false},
"axisY": {"domain": false, "ticks": false, "tickSize": 0, "grid": true, "gridColor": "#cbcbcb", "gridWidth": 1, "labelBaseline": "bottom", "labelOverlap": false}
}
}
